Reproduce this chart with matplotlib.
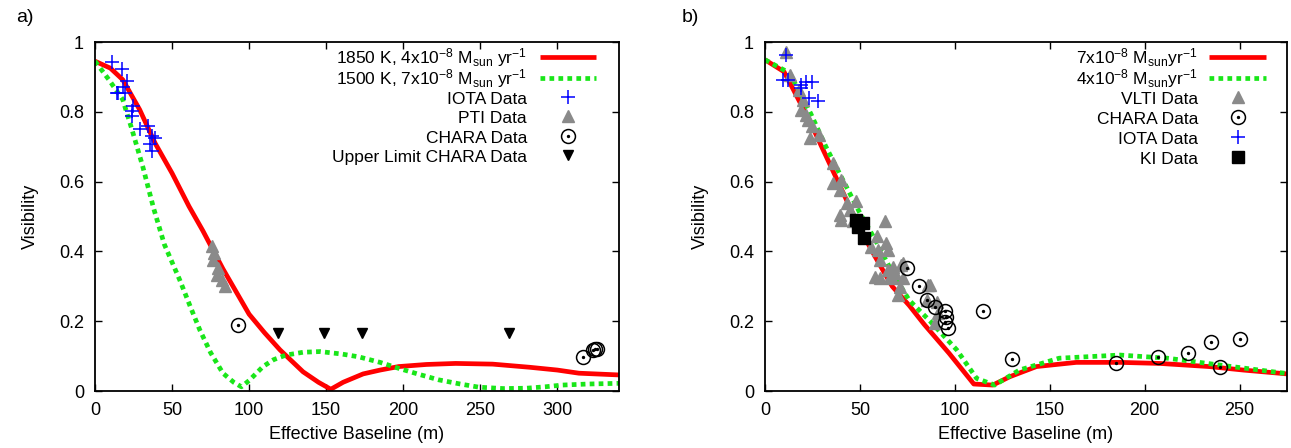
import matplotlib
matplotlib.use("Agg")
import matplotlib.pyplot as plt
from matplotlib.lines import Line2D

plt.rcParams['font.family'] = ['Liberation Sans', 'DejaVu Sans']
plt.rcParams['font.size'] = 12.5
plt.rcParams['mathtext.fontset'] = 'custom'
plt.rcParams['mathtext.rm'] = 'Liberation Sans'
plt.rcParams['mathtext.it'] = 'Liberation Sans:italic'
plt.rcParams['mathtext.bf'] = 'Liberation Sans:bold'

# ---- panel a) ----
model_a1_x = [0, 10, 18, 29, 39, 50, 61, 70, 83, 100, 110, 120, 135, 145, 153, 161, 174, 185, 197, 215, 234, 258, 282, 300, 314, 340]
model_a1_y = [0.945, 0.925, 0.892, 0.806, 0.71, 0.624, 0.529, 0.459, 0.35, 0.22, 0.167, 0.118, 0.055, 0.025, 0.005, 0.025, 0.049, 0.06, 0.07, 0.076, 0.079, 0.077, 0.068, 0.06, 0.051, 0.046]
model_a2_x = [0, 9, 18, 24, 31, 38, 45, 55, 62, 68, 75, 83, 90, 95, 100, 109, 116, 124, 135, 146, 160, 171, 185, 197, 210, 223, 237, 249, 265, 280, 292, 303, 320, 340]
model_a2_y = [0.945, 0.892, 0.835, 0.749, 0.643, 0.524, 0.42, 0.318, 0.24, 0.175, 0.11, 0.051, 0.025, 0.012, 0.03, 0.07, 0.09, 0.103, 0.111, 0.113, 0.106, 0.098, 0.082, 0.065, 0.048, 0.032, 0.02, 0.011, 0.007, 0.008, 0.012, 0.017, 0.02, 0.022]

iota_a_x = [10.8, 17.3, 20.9, 18.3, 15.1, 19.4, 14.1, 24.4, 23.8, 23.8, 29.2, 34.5, 36.7, 35.6, 36.7, 38.9]
iota_a_y = [0.942, 0.922, 0.889, 0.870, 0.855, 0.855, 0.855, 0.817, 0.803, 0.788, 0.75, 0.76, 0.731, 0.707, 0.688, 0.726]
pti_x = [75.6, 77.0, 76.7, 79.9, 78.9, 82.1, 84.3]
pti_y = [0.415, 0.395, 0.376, 0.352, 0.333, 0.319, 0.30]
chara_a_x = [92.9, 316.5, 322.9, 324.7, 325.5]
chara_a_y = [0.19, 0.098, 0.118, 0.12, 0.12]
upper_x = [118.8, 148.6, 173.5, 268.5]
upper_y = [0.165, 0.165, 0.165, 0.165]

# ---- panel b) ----
model_b1_x = [0, 10, 15, 24, 32, 41, 50, 58, 67, 76, 84, 97, 110, 120, 129, 143, 164, 187, 208, 234, 252, 275]
model_b1_y = [0.949, 0.915, 0.863, 0.768, 0.675, 0.57, 0.465, 0.385, 0.30, 0.245, 0.19, 0.108, 0.02, 0.017, 0.041, 0.07, 0.082, 0.082, 0.079, 0.07, 0.06, 0.049]
model_b2_x = [0, 13, 24, 32, 41, 50, 59, 67.5, 76, 87, 101, 111.5, 121, 134, 155, 187, 212, 243, 275]
model_b2_y = [0.949, 0.911, 0.796, 0.701, 0.605, 0.51, 0.424, 0.335, 0.26, 0.2, 0.118, 0.036, 0.017, 0.06, 0.094, 0.103, 0.094, 0.072, 0.05]

vlti_x = [11.3, 13.0, 17.9, 20.0, 19.2, 21.8, 22.7, 24.5, 23.6, 28.5, 35.9, 35.9, 40.3, 39.4, 43.2, 44.7, 48.2, 39.4, 40.3, 46.4,
          63.1, 58.8, 64.0, 56.1, 59.6, 64.9, 60.5, 72.8, 64.9, 68.4, 60.5, 66.7, 72.8, 86.9, 71.0, 70.1, 90.4, 91.2, 89.5,
          57.9, 65.8, 67.5, 71.9, 86.0, 85.1]
vlti_y = [0.970, 0.906, 0.863, 0.835, 0.806, 0.792, 0.777, 0.758, 0.725, 0.734, 0.653, 0.596, 0.605, 0.576, 0.538, 0.519, 0.543, 0.505, 0.490, 0.486,
          0.486, 0.443, 0.424, 0.414, 0.404, 0.404, 0.376, 0.366, 0.347, 0.338, 0.323, 0.323, 0.323, 0.304, 0.299, 0.275, 0.256, 0.223, 0.194,
          0.328, 0.328, 0.356, 0.361, 0.304, 0.261]
chara_b_x = [74.6, 81.1, 85.1, 89.5, 94.8, 95.3, 94.8, 96.5, 115.0, 130.0, 185.0, 207.0, 223.1, 235.1, 239.8, 250.4]
chara_b_y = [0.352, 0.301, 0.261, 0.240, 0.229, 0.213, 0.199, 0.18, 0.230, 0.091, 0.079, 0.098, 0.110, 0.141, 0.070, 0.150]
iota_b_x = [10.9, 9.5, 12.1, 19.2, 21.8, 24.5, 19.2, 23.2, 28.0]
iota_b_y = [0.964, 0.892, 0.892, 0.878, 0.884, 0.884, 0.868, 0.839, 0.832]
ki_x = [48.2, 51.7, 49.1, 52.1]
ki_y = [0.490, 0.481, 0.471, 0.438]

yticks = [0, 0.2, 0.4, 0.6, 0.8, 1]
ytick_labels = ['0', '0.2', '0.4', '0.6', '0.8', '1']

W, H = 1291, 448
RED = '#ff0000'
GREEN = '#19e619'
GRAY = '#8a8a8a'
BLUE = '#0000ff'
FS = 13

red_style = dict(color=RED, lw=3.4, solid_capstyle='butt')
green_style = dict(color=GREEN, lw=3.4, linestyle=(0, (1, 0.9)), dash_capstyle='butt')
iota_style = dict(ls='none', marker='+', ms=10, mew=1.1, color=BLUE)
tri_style = dict(ls='none', marker='^', ms=8, color=GRAY, mec=GRAY)
circ_style = dict(ls='none', marker='o', ms=10, mfc='none', mec='black', mew=1.1)
dot_style = dict(ls='none', marker='o', ms=1.4, color='black')
down_style = dict(ls='none', marker='v', ms=7.5, color='black')
ki_style = dict(ls='none', marker='s', ms=9, color='black')

fig = plt.figure(figsize=(W / 100, H / 100), dpi=100)
ax1 = fig.add_axes([95 / W, 1 - 391 / H, 524 / W, 349 / H])
ax2 = fig.add_axes([765 / W, 1 - 391 / H, 522 / W, 349 / H])


def fx(px):
    return px / W


def fy(py):
    return 1 - py / H


def legend_row(text_right, h0, h1, row_y, label, kind, styles):
    fig.text(fx(text_right), fy(row_y + 6.5), label, ha='right', va='baseline', fontsize=12.5)
    if kind == 'line':
        fig.add_artist(Line2D([fx(h0), fx(h1)], [fy(row_y), fy(row_y)], transform=fig.transFigure, **styles[0]))
    else:
        for st in styles:
            fig.add_artist(Line2D([fx((h0 + h1) / 2)], [fy(row_y)], transform=fig.transFigure, **st))


# panel a
ax1.plot(model_a1_x, model_a1_y, **red_style)
ax1.plot(model_a2_x, model_a2_y, **green_style)
ax1.plot(iota_a_x, iota_a_y, **iota_style)
ax1.plot(pti_x, pti_y, **tri_style)
ax1.plot(chara_a_x, chara_a_y, **circ_style)
ax1.plot(chara_a_x, chara_a_y, **dot_style)
ax1.plot(upper_x, upper_y, **down_style)
ax1.set_xlim(0, 340)
ax1.set_xticks([0, 50, 100, 150, 200, 250, 300])

# panel b
ax2.plot(model_b1_x, model_b1_y, **red_style)
ax2.plot(model_b2_x, model_b2_y, **green_style)
ax2.plot(vlti_x, vlti_y, **tri_style)
ax2.plot(chara_b_x, chara_b_y, **circ_style)
ax2.plot(chara_b_x, chara_b_y, **dot_style)
ax2.plot(iota_b_x, iota_b_y, **iota_style)
ax2.plot(ki_x, ki_y, **ki_style)
ax2.set_xlim(0, 275)
ax2.set_xticks([0, 50, 100, 150, 200, 250])

for ax in (ax1, ax2):
    ax.set_ylim(0, 1)
    ax.set_yticks(yticks)
    ax.set_yticklabels(ytick_labels)
    ax.tick_params(direction='in', top=True, right=True, length=5, width=1, labelsize=FS)
    ax.tick_params(axis='x', pad=8)
    ax.tick_params(axis='y', pad=8)
    for s in ax.spines.values():
        s.set_linewidth(1.3)
    ax.set_xlabel('Effective Baseline (m)', fontsize=FS, labelpad=5)
    ax.set_ylabel('Visibility', fontsize=FS, labelpad=14)

# legends
rows_a = [57, 78, 97, 116.5, 136, 155.5]
legend_row(527, 540, 596, rows_a[0], r'1850 K, 4x10$^{-8}$ M$_{\rm sun}$ yr$^{-1}$', 'line', [red_style])
legend_row(527, 540, 596, rows_a[1], r'1500 K, 7x10$^{-8}$ M$_{\rm sun}$ yr$^{-1}$', 'line', [green_style])
legend_row(527, 540, 596, rows_a[2], 'IOTA Data', 'mark', [iota_style])
legend_row(527, 540, 596, rows_a[3], 'PTI Data', 'mark', [tri_style])
legend_row(527, 540, 596, rows_a[4], 'CHARA Data', 'mark', [circ_style, dot_style])
legend_row(527, 540, 596, rows_a[5], 'Upper Limit CHARA Data', 'mark', [down_style])

rows_b = [57, 78, 97, 117, 137, 157]
legend_row(1198, 1209, 1266, rows_b[0], r'7x10$^{-8}$ M$_{\rm sun}$yr$^{-1}$', 'line', [red_style])
legend_row(1198, 1209, 1266, rows_b[1], r'4x10$^{-8}$ M$_{\rm sun}$yr$^{-1}$', 'line', [green_style])
legend_row(1198, 1209, 1266, rows_b[2], 'VLTI Data', 'mark', [tri_style])
legend_row(1198, 1209, 1266, rows_b[3], 'CHARA Data', 'mark', [circ_style, dot_style])
legend_row(1198, 1209, 1266, rows_b[4], 'IOTA Data', 'mark', [iota_style])
legend_row(1198, 1209, 1266, rows_b[5], 'KI Data', 'mark', [ki_style])

fig.text(fx(16), fy(17), 'a)', ha='left', va='center', fontsize=14)
fig.text(fx(682), fy(17), 'b)', ha='left', va='center', fontsize=14)

fig.savefig('out.png', dpi=100)
